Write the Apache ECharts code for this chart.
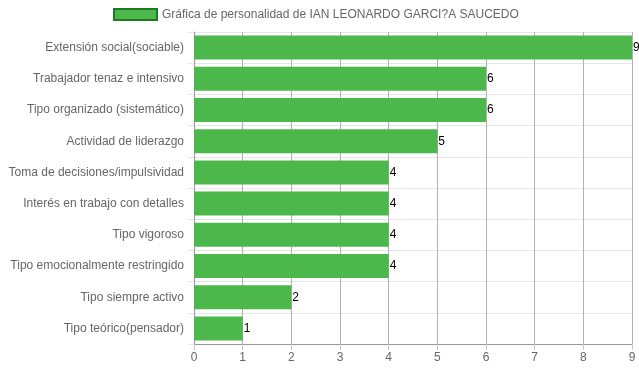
<!DOCTYPE html>
<html><head><meta charset="utf-8">
<script src="https://cdn.jsdelivr.net/npm/echarts@6/dist/echarts.min.js"></script>
<style>html,body{margin:0;padding:0;background:#fff}#c{width:639px;height:372px}</style>
</head><body><div id="c"></div>
<script>
const categories = ["Extensión social(sociable)","Trabajador tenaz e intensivo","Tipo organizado (sistemático)","Actividad de liderazgo","Toma de decisiones/impulsividad","Interés en trabajo con detalles","Tipo vigoroso","Tipo emocionalmente restringido","Tipo siempre activo","Tipo teórico(pensador)"];
const values = [9,6,6,5,4,4,4,4,2,1];
const seriesName = "Gráfica de personalidad de IAN LEONARDO GARCI?A SAUCEDO";
const font = "'Liberation Sans', Arial, sans-serif";
const chart = echarts.init(document.getElementById('c'), null, {renderer:'canvas'});
chart.setOption({
  animation:false,
  textStyle:{fontFamily:font},
  legend:{
    top:3, left:108, itemWidth:43, itemHeight:11, itemGap:6, icon:'rect',
    data:[{name:seriesName, itemStyle:{color:'#4cb84c', borderColor:'#1f7a1f', borderWidth:2}}],
    textStyle:{color:'#666', fontSize:12, fontFamily:font}
  },
  grid:{left:194, right:7, top:32, bottom:28, containLabel:false},
  xAxis:{
    type:'value', min:0, max:9, interval:1,
    axisLine:{show:true, lineStyle:{color:'#9a9a9a'}},
    axisTick:{show:true, length:6, lineStyle:{color:'#c8c8c8'}},
    axisLabel:{color:'#666', fontSize:12, margin:8, fontFamily:font},
    splitLine:{show:true, lineStyle:{color:'#b0b0b0'}}
  },
  yAxis:{
    type:'category', data:categories, inverse:true,
    axisLine:{show:true, lineStyle:{color:'#9a9a9a'}},
    axisTick:{show:true, length:6, lineStyle:{color:'#e6e6e6'}},
    axisLabel:{color:'#666', fontSize:12, margin:10, fontFamily:font},
    splitLine:{show:true, lineStyle:{color:'#e6e6e6'}}
  },
  series:[{
    name:seriesName, type:'bar', data:values, barWidth:24,
    itemStyle:{color:'#4cb84c'},
    label:{show:true, position:'right', distance:1, color:'#000', fontSize:12, fontFamily:font}
  }]
});
</script></body></html>
